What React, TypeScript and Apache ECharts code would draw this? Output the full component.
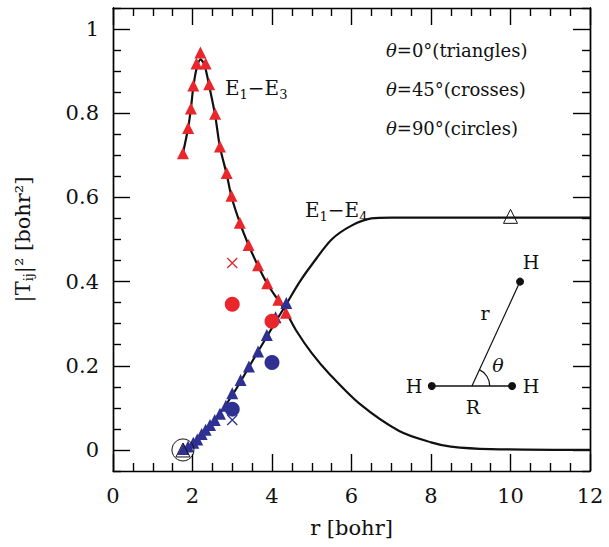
import { useEffect, useRef } from "react";
import * as echarts from "echarts";

const e13Triangles = [
  [1.76, 0.705], [1.89, 0.765], [1.96, 0.811], [2.02, 0.866], [2.1, 0.918], [2.2, 0.944],
  [2.33, 0.918], [2.42, 0.869], [2.57, 0.799], [2.69, 0.721], [2.86, 0.658], [2.98, 0.604],
  [3.19, 0.54], [3.41, 0.487], [3.65, 0.439], [3.88, 0.396], [4.16, 0.357], [4.35, 0.326]
];
const e14Triangles = [
  [1.77, 0.002], [1.89, 0.008], [2.02, 0.017], [2.12, 0.025], [2.23, 0.038], [2.33, 0.048],
  [2.44, 0.059], [2.56, 0.071], [2.69, 0.086], [2.84, 0.105], [3.0, 0.135], [3.21, 0.166],
  [3.42, 0.198], [3.65, 0.234], [3.87, 0.273], [4.09, 0.315], [4.36, 0.349]
];
const e13Circles = [[3.0, 0.346], [4.0, 0.306]];
const e14Circles = [[4.0, 0.208], [3.0, 0.097]];
const e13Crosses = [[3.0, 0.444]];
const e14Crosses = [[3.0, 0.071]];
const e13Curve = [
  [1.76, 0.705], [1.89, 0.765], [1.96, 0.811], [2.02, 0.862], [2.1, 0.905], [2.2, 0.928],
  [2.3, 0.915], [2.42, 0.865], [2.57, 0.795], [2.69, 0.72], [2.86, 0.655], [2.98, 0.602],
  [3.19, 0.54], [3.41, 0.487], [3.65, 0.437], [3.88, 0.395], [4.16, 0.355], [4.35, 0.328],
  [4.6, 0.285], [5.0, 0.23], [5.45, 0.18], [6.2, 0.11], [7.2, 0.045], [8.0, 0.018],
  [8.5, 0.008], [9.5, 0.002], [12, 0]
];
const e14Curve = [
  [1.76, 0], [2.0, 0.015], [2.5, 0.064], [3.0, 0.13], [3.5, 0.21], [4.0, 0.29], [4.35, 0.345],
  [4.7, 0.4], [5.0, 0.44], [5.5, 0.5], [6.0, 0.533], [6.5, 0.55], [7.0, 0.552], [12, 0.552]
];
const openTriangles = [[10, 0.555], [1.76, 0.0]];
const openCircles = [[1.76, 0.0]];
const molArms = [[8.02, 0.152], [10.04, 0.152]];
const molBond = [[9.03, 0.152], [10.24, 0.4]];
const molAtoms = [[8.02, 0.152], [10.04, 0.152], [10.24, 0.4]];

const yMajor = [0, 0.2, 0.4, 0.6, 0.8, 1];
const yMinor = [-0.05, 0.05, 0.1, 0.15, 0.25, 0.3, 0.35, 0.45, 0.5, 0.55, 0.65, 0.7, 0.75, 0.85, 0.9, 0.95, 1.05];
const legendLines = ["0°(triangles)", "45°(crosses)", "90°(circles)"];

const RED = "#e8262b";
const BLUE = "#2e3192";
const FONT = "DejaVu Serif";
const CROSS = "path://M0,0L10,10M10,0L0,10";

export default function App() {
  const ref = useRef<HTMLDivElement | null>(null);

  useEffect(() => {
    if (!ref.current) return;
    const chart = echarts.init(ref.current, undefined, { renderer: "svg" });

    const line = { color: "#000", width: 1.4 };
    const yBase = {
      type: "value", min: -0.05, max: 1.05, position: "left",
      axisLine: { show: true, lineStyle: line },
      splitLine: { show: false }
    };
    const yAxes = [
      { ...yBase, axisTick: { inside: true, length: 17, lineStyle: line, customValues: yMajor },
        axisLabel: { customValues: yMajor, color: "#111", fontFamily: FONT, fontSize: 21, margin: 14,
          formatter: (v: number) => String(Math.round(v * 10) / 10) },
        name: "|T{s|ij}|² [bohr²]", nameLocation: "middle", nameGap: 78,
        nameTextStyle: { fontFamily: FONT, fontSize: 21, color: "#111",
          rich: { s: { fontFamily: FONT, fontSize: 13, verticalAlign: "bottom", padding: [12, 0, 0, 0] } } } },
      { ...yBase, axisTick: { inside: true, length: 8, lineStyle: line, customValues: yMinor }, axisLabel: { show: false } },
      { ...yBase, position: "right", axisTick: { inside: true, length: 17, lineStyle: line, customValues: yMajor }, axisLabel: { show: false } },
      { ...yBase, position: "right", axisTick: { inside: true, length: 8, lineStyle: line, customValues: yMinor }, axisLabel: { show: false } }
    ];
    const xBase = {
      type: "value", min: 0, max: 12, interval: 2,
      axisLine: { show: true, onZero: false, lineStyle: line },
      axisTick: { inside: true, length: 17, lineStyle: line },
      minorTick: { show: true, splitNumber: 4, length: 8, lineStyle: line },
      splitLine: { show: false }, minorSplitLine: { show: false }
    };

    const sc = (data: number[][], symbol: string, color: string, size: number, extra: any = {}) => ({
      type: "scatter", data, symbol, symbolSize: size, itemStyle: { color, opacity: 1 }, z: 5, ...extra
    });
    const outline = (c: string, w: number) => ({ itemStyle: { color: "none", borderColor: c, borderWidth: w, opacity: 1 } });
    const sub = { s: { fontFamily: FONT, fontSize: 13, padding: [12, 0, 0, 0] }, i: { fontFamily: FONT, fontStyle: "italic", fontSize: 18 } };

    chart.setOption({
      animation: false,
      grid: { left: 113, right: 19, top: 8, bottom: 76 },
      xAxis: [
        { ...xBase, position: "bottom",
          axisLabel: { color: "#111", fontFamily: FONT, fontSize: 21, margin: 14 },
          name: "r [bohr]", nameLocation: "middle", nameGap: 46,
          nameTextStyle: { fontFamily: FONT, fontSize: 21, color: "#111" } },
        { ...xBase, position: "top", axisLabel: { show: false } }
      ],
      yAxis: yAxes,
      series: [
        { type: "line", data: e13Curve, symbol: "none", smooth: 0.3, lineStyle: { color: "#111", width: 2.2 }, z: 3 },
        { type: "line", data: e14Curve, symbol: "none", smooth: 0.3, lineStyle: { color: "#111", width: 2.2 }, z: 3 },
        sc(e13Triangles, "triangle", RED, 12),
        sc(e14Triangles, "triangle", BLUE, 12),
        sc(e13Circles, "circle", RED, 15),
        sc(e14Circles, "circle", BLUE, 15),
        sc(e13Crosses, CROSS, "none", 10, outline(RED, 1.3)),
        sc(e14Crosses, CROSS, "none", 10, outline(BLUE, 1.3)),
        sc(openTriangles, "triangle", "none", 14, { ...outline("#111", 1), z: 6 }),
        sc(openCircles, "circle", "none", 22, { ...outline("#111", 1), z: 6 }),
        { type: "line", data: molArms, symbol: "none", lineStyle: { color: "#111", width: 1.5 } },
        { type: "line", data: molBond, symbol: "none", lineStyle: { color: "#111", width: 1.2 } },
        sc(molAtoms, "circle", "#111", 8)
      ],
      graphic: [
        { type: "arc", shape: { cx: 471.7, cy: 386, r: 18, startAngle: -1.14, endAngle: 0, clockwise: true },
          style: { stroke: "#111", lineWidth: 1.2, fill: "none" } },
        ...legendLines.map((t, k) => ({
          type: "text", x: 386, y: 50 + k * 39,
          style: { text: "{i|θ}=" + t, fontFamily: FONT, fontSize: 18, fill: "#111", verticalAlign: "middle", rich: sub }
        })),
        { type: "text", x: 225, y: 88, style: { text: "E{s|1}−E{s|3}", fontFamily: FONT, fontSize: 20, fill: "#111", verticalAlign: "middle", rich: sub } },
        { type: "text", x: 305, y: 210, style: { text: "E{s|1}−E{s|4}", fontFamily: FONT, fontSize: 20, fill: "#111", verticalAlign: "middle", rich: sub } },
        ...[
          ["H", 531, 262], ["H", 414, 386], ["H", 531, 386], ["r", 485, 313], ["R", 473, 407]
        ].map(([t, x, y]) => ({
          type: "text", x: x as number, y: y as number,
          style: { text: t as string, fontFamily: FONT, fontSize: 19, fill: "#111", align: "center", verticalAlign: "middle" }
        })),
        { type: "text", x: 498, y: 365, style: { text: "θ", fontFamily: FONT, fontStyle: "italic", fontSize: 19, fill: "#111", align: "center", verticalAlign: "middle" } }
      ]
    });

    return () => chart.dispose();
  }, []);

  return <div ref={ref} style={{ position: "absolute", left: 0, top: 0, width: 609, height: 547, background: "#fff" }} />;
}
